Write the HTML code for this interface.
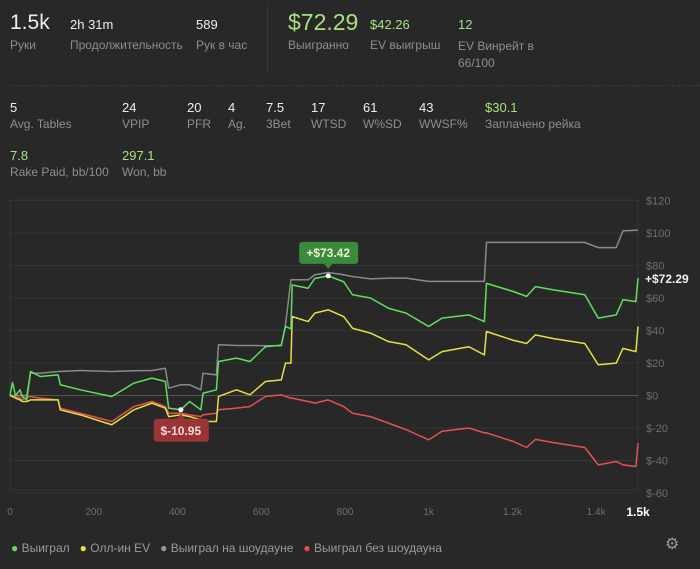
<!DOCTYPE html>
<html><head><meta charset="utf-8">
<style>
body{margin:0;background:#282828;width:700px;height:569px;overflow:hidden;font-family:"Liberation Sans",sans-serif;position:relative}
.t{position:absolute;white-space:nowrap}
.v{color:#eee;font-size:13px}
.l{color:#8e8e8e;font-size:12px}
.g{color:#a8e07e}
</style></head><body>
<div class="t v" style="left:10px;top:11px;font-size:21px">1.5k</div>
<div class="t l" style="left:10px;top:38px">Руки</div>
<div class="t v" style="left:70px;top:17px">2h 31m</div>
<div class="t l" style="left:70px;top:38px">Продолжительность</div>
<div class="t v" style="left:196px;top:17px">589</div>
<div class="t l" style="left:196px;top:38px">Рук в час</div>
<div class="t" style="left:267px;top:6px;width:1px;height:64px;background:#3a3a3a"></div>
<div class="t g" style="left:288px;top:9px;font-size:23px">$72.29</div>
<div class="t l" style="left:288px;top:38px">Выигранно</div>
<div class="t g" style="left:370px;top:17px;font-size:13px">$42.26</div>
<div class="t l" style="left:370px;top:38px">EV выигрыш</div>
<div class="t g" style="left:458px;top:17px;font-size:13px">12</div>
<div class="t l" style="left:458px;top:38px;line-height:17px">EV Винрейт в<br>66/100</div>
<div class="t" style="left:10px;top:85px;width:690px;border-top:1px dashed #3a3a3a"></div>
<div id="row2"></div>
<svg class="t" style="left:0;top:0" width="700" height="569" id="chart"></svg>
<div class="t" style="left:11px;top:541px;font-size:12px;color:#9a9a9a">
<span><span style="color:#5ee05e">●</span> Выиграл</span>&nbsp;&nbsp;
<span><span style="color:#e8e040">●</span> Олл-ин EV</span>&nbsp;&nbsp;
<span><span style="color:#999">●</span> Выиграл на шоудауне</span>&nbsp;&nbsp;
<span><span style="color:#e85050">●</span> Выиграл без шоудауна</span>
</div>
<div class="t" style="left:665px;top:534px;font-size:16px;color:#999">⚙</div>
<script>
const stats=[["5","Avg. Tables",10,0],["24","VPIP",122,0],["20","PFR",187,0],["4","Ag.",228,0],["7.5","3Bet",266,0],["17","WTSD",311,0],["61","W%SD",363,0],["43","WWSF%",419,0],["$30.1","Заплачено рейка",485,1]];
const stats2=[["7.8","Rake Paid, bb/100",10,1],["297.1","Won, bb",122,1]];
const r2=document.getElementById('row2');
function addStat(s,top){
 const v=document.createElement('div');v.className='t v'+(s[3]?' g':'');v.style.left=s[2]+'px';v.style.top=top+'px';v.textContent=s[0];
 
 
 const l=document.createElement('div');l.className='t l';l.style.left=s[2]+'px';l.style.top=(top+17)+'px';l.textContent=s[1];
 
 
 r2.appendChild(v);r2.appendChild(l);
}
stats.forEach(s=>addStat(s,100));stats2.forEach(s=>addStat(s,148));

const hands=[0,6,13,24,29,40,49,72,115,120,168,243,296,339,371,379,408,429,456,461,493,498,541,573,610,648,658,671,674,712,728,760,797,818,861,904,946,1000,1032,1096,1133,1138,1202,1234,1255,1298,1373,1405,1448,1464,1495,1500];
const won=[0,8,0,3.5,-0.6,-2.7,14.8,11.7,12.7,6.6,3.5,-0.6,7.6,10.7,8.6,-7.8,-8.8,-3.7,-8.8,1.4,3.5,20.9,23,20.9,30,31,42.5,41,68,66,72,73.6,70,62,60,53.7,50.7,42.5,47.6,49.6,45.5,69,64,61,67,65,62,47.6,49.6,59,57.8,72.3];
const allinEV=[0,-0.6,-1.6,-2.7,-3.7,-3.7,-2.7,-2.7,-2.7,-8.8,-11.9,-18,-8.8,-4.7,-7.8,-13,-11.9,-13,-15,-16,-16,-0.6,3.5,0.4,8.6,9.6,19.9,19.9,48.6,45.5,50.7,52.7,48.6,41.4,38.4,33.2,31.2,21.9,27,30,25,39.4,34,32,37.3,35,32,18.9,19.9,29,27,42.5];
const showdown=[0,0,0,0,0,0,13.7,13.7,14.8,14.8,15.4,14.8,15.2,15.4,16.8,4.5,6.6,6.6,3.5,13.7,12.7,31.2,30.8,30.8,30.6,30.6,43.5,71.2,71.2,71.2,74.3,75.7,74.3,73.2,71.8,72.2,72.2,70.2,70.2,70.2,70.2,94.2,94.2,94.2,94.2,94.2,94.2,91,91,101.3,101.7,101.7];
const nonShowdown=[0,-0.6,-1,-1.6,-2.7,-1,-0.6,-1.6,-2.7,-7.8,-10.9,-16,-6.8,-3.7,-6.8,-10.9,-10.9,-11.9,-13,-11.9,-10.9,-8.8,-7.8,-6.8,-0.6,0.4,-0.6,-1.6,-1.6,-3.7,-4.7,-2.7,-6.8,-10.9,-13,-17,-21,-27.3,-22,-20,-23,-23,-28.3,-32,-27,-29,-32,-42.7,-40.6,-42.7,-43.7,-29.3];
const yTicks=[120,100,80,60,40,20,0,-20,-40,-60];
const xTicks=[0,200,400,600,800,1000,1200,1400];
const xTickLabels=["0","200","400","600","800","1k","1.2k","1.4k"];

const svg=document.getElementById('chart');const NS='http://www.w3.org/2000/svg';
const X=h=>10+h*628/1500, Y=v=>395.5-v*1.625;
function el(t,a,txt){const e=document.createElementNS(NS,t);for(const k in a)e.setAttribute(k,a[k]);if(txt!=null)e.textContent=txt;svg.appendChild(e);return e;}
el('rect',{x:10,y:200,width:628,height:290,fill:'none',stroke:'#333',});
yTicks.forEach(v=>{
 const g=el('line',{x1:10,x2:638,y1:Y(v),y2:Y(v),stroke:v==0?'#555':'#353535','stroke-width':1});
 
 
 const t=el('text',{x:646,y:Y(v)+4,fill:'#6e6e6e','font-size':11},'$'+v);
 
 
});
xTicks.forEach((h,i)=>{
 const t=el('text',{x:X(h),y:515,fill:'#6e6e6e','font-size':10,'text-anchor':'middle'},xTickLabels[i]);
 
 
});
const xe=el('text',{x:X(1500),y:516,fill:'#fff','font-size':12,'font-weight':'bold','text-anchor':'middle'},'1.5k');


function line(vals,color,name){
 const p=el('polyline',{points:vals.map((v,i)=>X(hands[i])+','+Y(v)).join(' '),fill:'none',stroke:color,'stroke-width':1.5,'stroke-linejoin':'round'});
 
 
}
line(showdown,'#8a8a8a','showdown-line');
line(nonShowdown,'#e85050','non-showdown-line');
line(allinEV,'#e8e040','allin-ev-line');
line(won,'#5ee05e','won-line');
// max tooltip
const maxI=won.indexOf(Math.max(...won)), minI=won.indexOf(Math.min(...won));
const mx=X(hands[maxI]),my=Y(won[maxI]);
el('rect',{x:mx-29,y:my-34,width:59,height:22,rx:3,fill:'#3b8a3e',});
el('polygon',{points:`${mx-4},${my-12} ${mx+4},${my-12} ${mx},${my-7}`,fill:'#3b8a3e'});
el('text',{x:mx,y:my-19,fill:'#e8f5d0','font-size':12,'font-weight':'bold','text-anchor':'middle'},'+$'+won[maxI].toFixed(2).replace('73.60','73.42'));
el('circle',{cx:mx,cy:my,r:2.5,fill:'#fff'});
const nx=X(hands[minI]),ny=Y(won[minI]);
el('rect',{x:nx-27,y:ny+9,width:55,height:23,rx:3,fill:'#9b3535',});
el('polygon',{points:`${nx-4},${ny+9} ${nx+4},${ny+9} ${nx},${ny+4}`,fill:'#9b3535'});
el('text',{x:nx,y:ny+25,fill:'#f3dada','font-size':12,'font-weight':'bold','text-anchor':'middle'},'$-10.95');
el('circle',{cx:nx,cy:ny,r:2.5,fill:'#fff'});
const last=el('text',{x:645,y:Y(won[won.length-1])+5,fill:'#f0f0f0','font-size':12,'font-weight':'bold'},'+$'+won[won.length-1].toFixed(2).replace('72.30','72.29'));


</script>
</body></html>
